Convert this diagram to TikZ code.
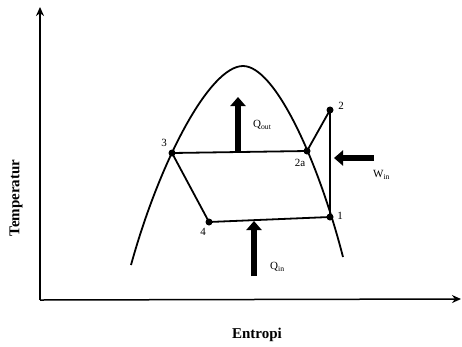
\documentclass[tikz,border=0pt]{standalone}
\usepackage{fontspec}
\setmainfont{Liberation Serif}
\usetikzlibrary{arrows.meta}
\begin{document}
\begin{tikzpicture}[x=1pt,y=-1pt,
  axis/.style={line width=1.5pt,-{Stealth[length=9pt,width=8pt]}},
  cycle/.style={line width=1.8pt},
  dome/.style={line width=1.8pt},
  pt/.style={circle,fill=black,inner sep=0pt,minimum size=7pt},
  bigarrow/.style={line width=6pt,-{Triangle[length=9pt,width=15pt]}},
  lbl/.style={font=\fontsize{11}{12}\selectfont,inner sep=1pt},
  axlbl/.style={font=\fontsize{15}{16}\selectfont\bfseries}]
\useasboundingbox (0,0) rectangle (462,346);
% axes
\coordinate (O) at (40,300);
\coordinate (ytop) at (40,7);
\coordinate (xend) at (461,299);
\draw[axis] (O) -- (ytop);
\draw[axis] (O) -- (xend);
\node[axlbl,rotate=90] (ylab) at (16,198) {Temperatur};
\node[axlbl] (xlab) at (257,335) {Entropi};
% dome
\draw[dome] (131,265) .. controls (160,160) and (210,66) .. (243,66)
            .. controls (275,66) and (318,160) .. (343,257);
% points
\node[pt] (p3) at (172,153) {};
\node[pt] (p2a) at (307,151) {};
\node[pt] (p2) at (330,110) {};
\node[pt] (p1) at (330,217) {};
\node[pt] (p4) at (209,222) {};
\draw[cycle] (p3.center) -- (p2a.center) -- (p2.center) -- (p1.center) -- (p4.center) -- cycle;
% labels
\node[lbl] (l3) at (164,143) {3};
\node[lbl] (l2a) at (300,163) {2a};
\node[lbl] (l2) at (341,106) {2};
\node[lbl] (l1) at (340,216) {1};
\node[lbl] (l4) at (203,232) {4};
% heat/work arrows
\coordinate (qoutA) at (238,152);
\coordinate (qoutB) at (238,97);
\draw[bigarrow] (qoutA) -- (qoutB);
\node[lbl,anchor=west] (qout) at (252,125) {Q\textsubscript{out}};
\coordinate (qinA) at (254,276);
\coordinate (qinB) at (254,221);
\draw[bigarrow] (qinA) -- (qinB);
\node[lbl,anchor=west] (qin) at (269,267) {Q\textsubscript{in}};
\coordinate (winA) at (374,158);
\coordinate (winB) at (334,158);
\draw[bigarrow] (winA) -- (winB);
\node[lbl,anchor=west] (win) at (372,175) {W\textsubscript{in}};
\end{tikzpicture}
\end{document}
